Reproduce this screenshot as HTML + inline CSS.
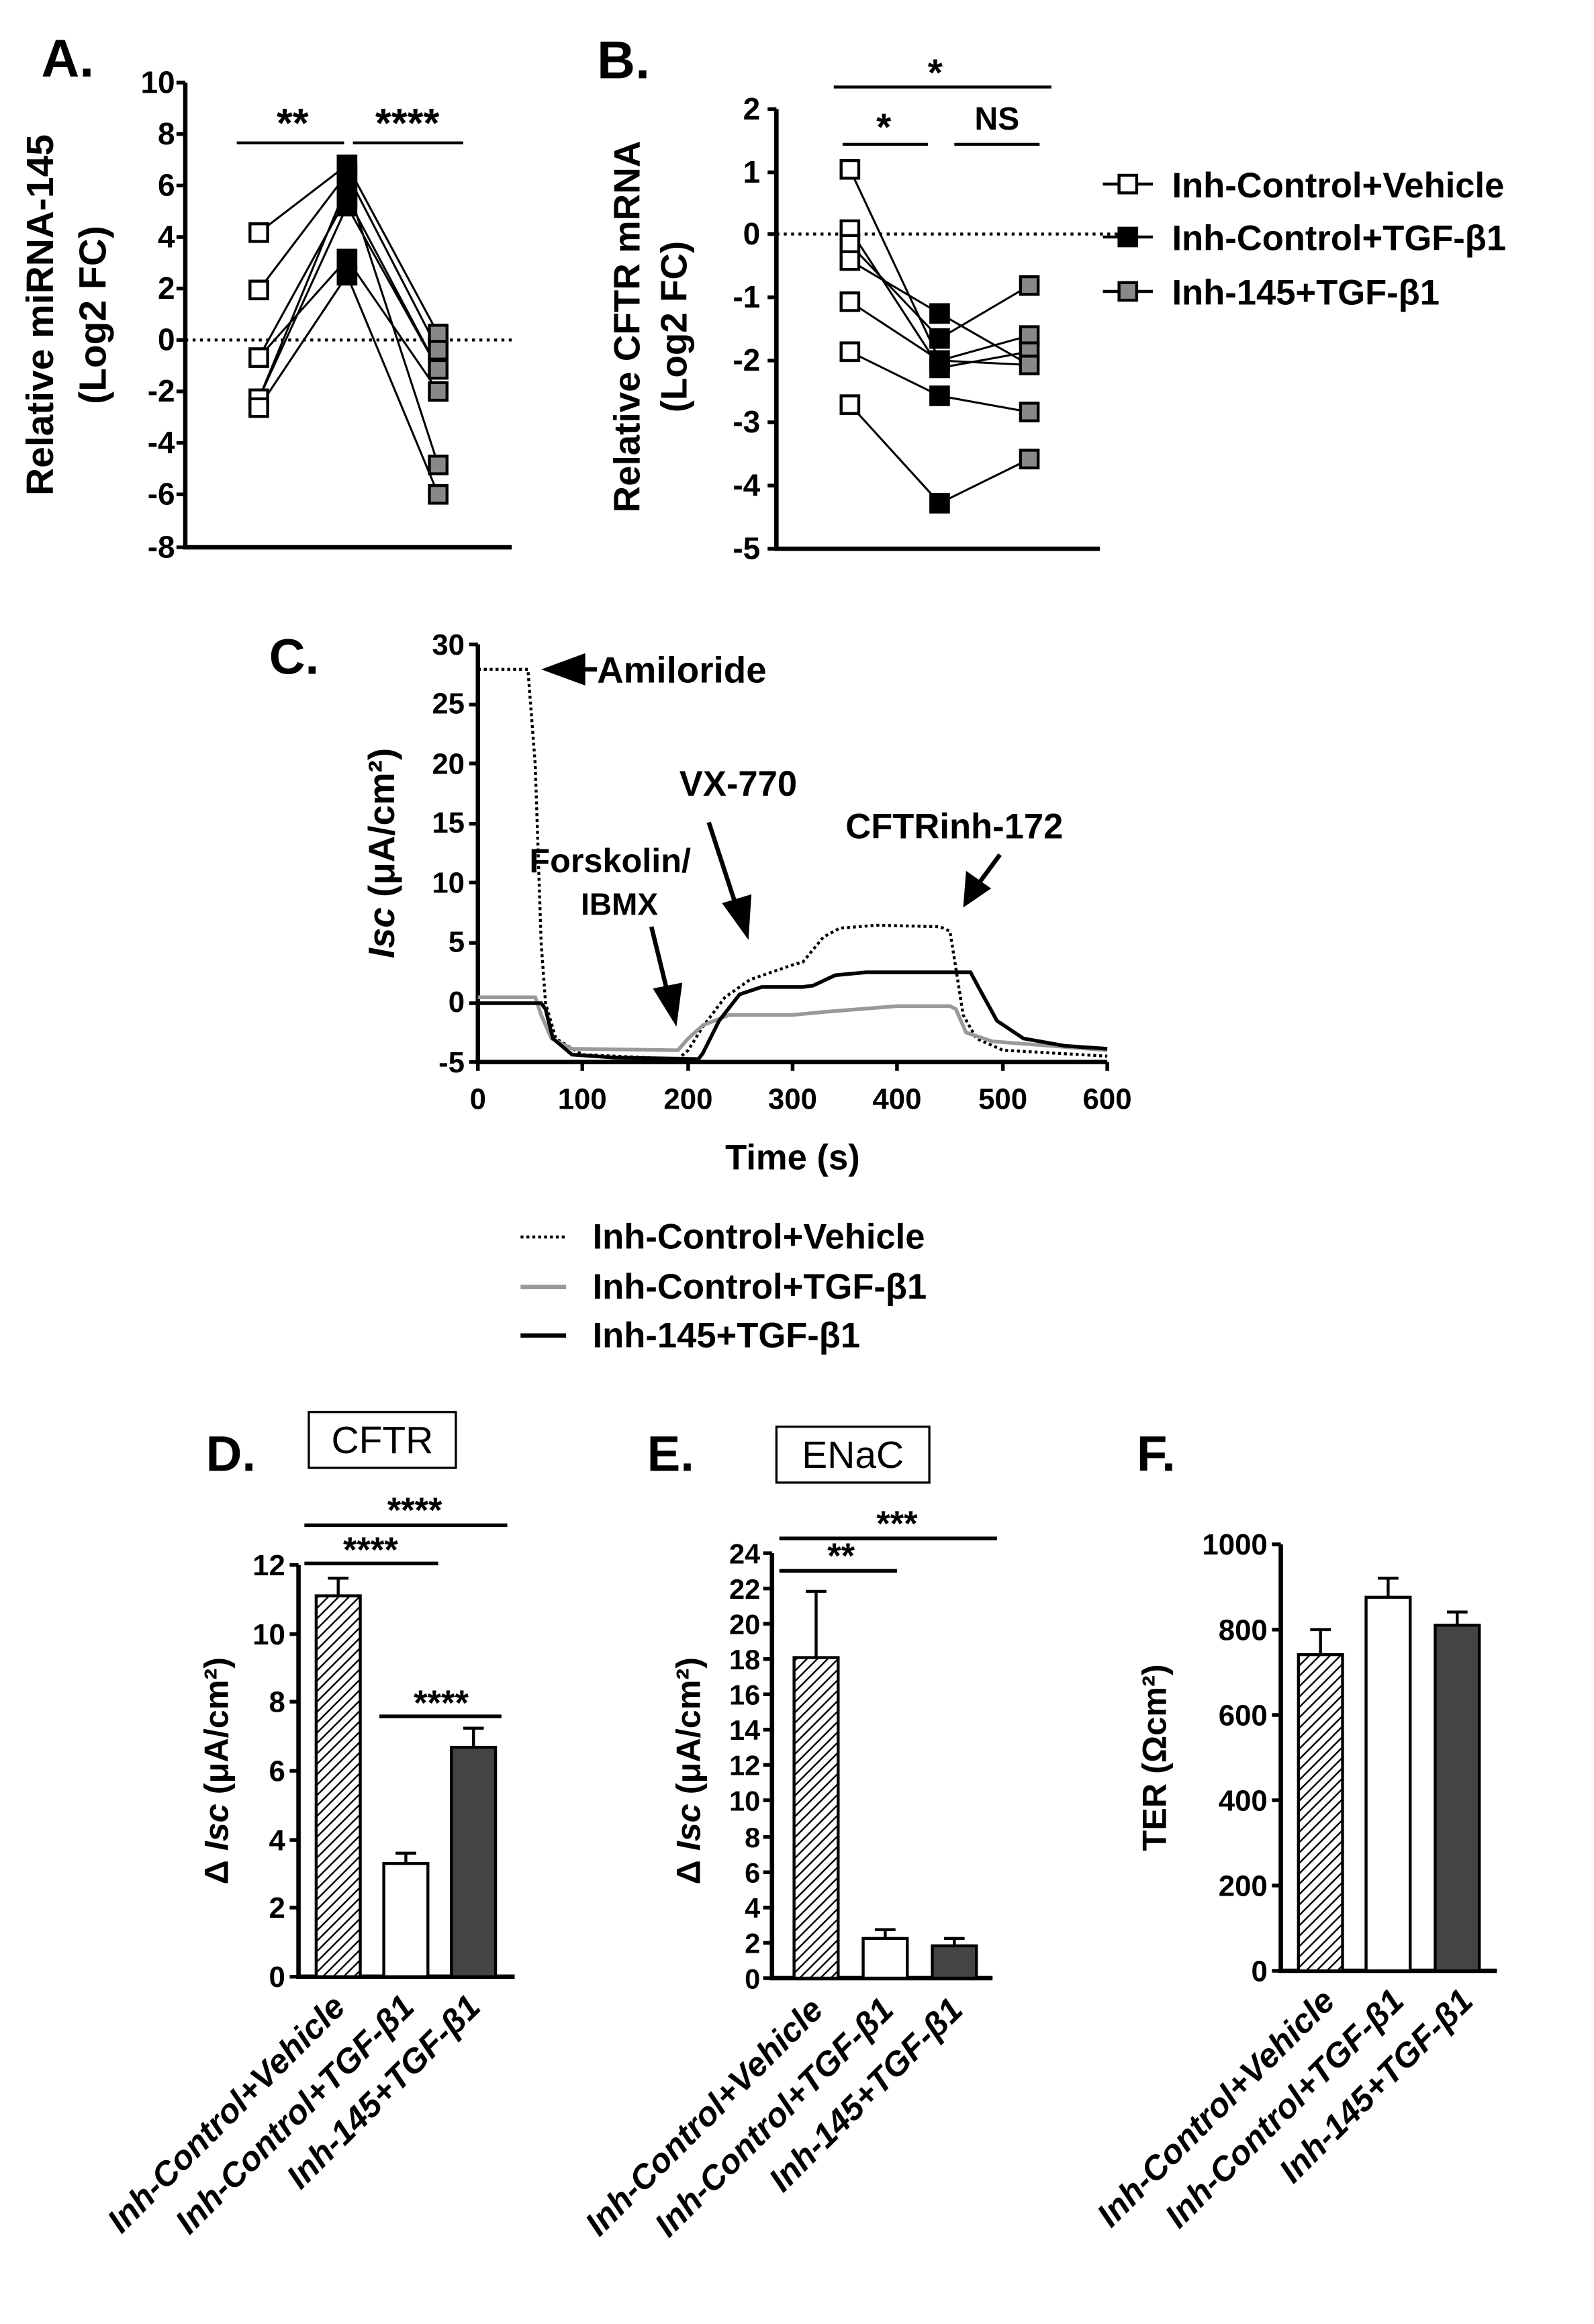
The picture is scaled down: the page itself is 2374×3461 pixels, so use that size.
<!DOCTYPE html>
<html><head><meta charset="utf-8"><style>html,body{margin:0;padding:0;background:#fff}svg{display:block}text{font-family:"Liberation Sans",sans-serif;font-weight:bold}</style></head><body>
<svg width="2374" height="3461" viewBox="0 0 1084 1580" xmlns="http://www.w3.org/2000/svg">
<defs><pattern id="h" width="5" height="5" patternUnits="userSpaceOnUse" patternTransform="rotate(45)"><rect width="5" height="5" fill="#fff"/><line x1="0" y1="0" x2="0" y2="5" stroke="#000" stroke-width="2.2"/></pattern></defs>
<!-- Panel A -->
<text x="28" y="52" font-size="36">A.</text>
<path d="M126 56V372H348" stroke="#000" stroke-width="3" fill="none"/>
<g font-size="21" text-anchor="end">
<text x="119" y="63">10</text><text x="119" y="98">8</text><text x="119" y="133">6</text><text x="119" y="168">4</text><text x="119" y="203">2</text><text x="119" y="238">0</text><text x="119" y="273">-2</text><text x="119" y="308">-4</text><text x="119" y="343">-6</text><text x="119" y="379">-8</text></g>
<path d="M120 56h6M120 91h6M120 126h6M120 161h6M120 196h6M120 231h6M120 266h6M120 301h6M120 336h6M120 372h6" stroke="#000" stroke-width="2.5"/>
<text transform="translate(36 214) rotate(-90)" font-size="26" text-anchor="middle">Relative miRNA-145</text>
<text transform="translate(72 214) rotate(-90)" font-size="26" text-anchor="middle">(Log2 FC)</text>
<line x1="126" y1="231" x2="348" y2="231" stroke="#000" stroke-width="2" stroke-dasharray="2,3"/>
<path d="M161 97H234M240 97H315" stroke="#000" stroke-width="2"/>
<text x="199" y="93" font-size="28" text-anchor="middle">**</text><text x="277" y="93" font-size="28" text-anchor="middle">****</text>
<g stroke="#000" stroke-width="1.4" fill="none">
<path d="M176 158L236 112L298 227M176 197L236 118L298 238M176 243L236 134L298 251M176 243L236 176L298 266M176 271L236 140L298 251M176 277L236 187L298 336M176 271L236 126L298 316"/></g>
<g stroke="#000" stroke-width="2">
<g fill="#fff"><rect x="170" y="152" width="12" height="12"/><rect x="170" y="191" width="12" height="12"/><rect x="170" y="237" width="12" height="12"/><rect x="170" y="265" width="12" height="12"/><rect x="170" y="271" width="12" height="12"/></g>
<g fill="#000"><rect x="230" y="106" width="12" height="12"/><rect x="230" y="112" width="12" height="12"/><rect x="230" y="120" width="12" height="12"/><rect x="230" y="128" width="12" height="12"/><rect x="230" y="134" width="12" height="12"/><rect x="230" y="170" width="12" height="12"/><rect x="230" y="181" width="12" height="12"/></g>
<g fill="#888"><rect x="292" y="221" width="12" height="12"/><rect x="292" y="232" width="12" height="12"/><rect x="292" y="245" width="12" height="12"/><rect x="292" y="260" width="12" height="12"/><rect x="292" y="310" width="12" height="12"/><rect x="292" y="330" width="12" height="12"/></g></g>
<!-- Panel B -->
<text x="406" y="53" font-size="36">B.</text>
<path d="M528 74V373H748" stroke="#000" stroke-width="3" fill="none"/>
<g font-size="21" text-anchor="end"><text x="517" y="81">2</text><text x="517" y="124">1</text><text x="517" y="166">0</text><text x="517" y="209">-1</text><text x="517" y="252">-2</text><text x="517" y="294">-3</text><text x="517" y="337">-4</text><text x="517" y="380">-5</text></g>
<path d="M522 74h6M522 117h6M522 159h6M522 202h6M522 245h6M522 287h6M522 330h6M522 373h6" stroke="#000" stroke-width="2.5"/>
<text transform="translate(435 222) rotate(-90)" font-size="25" text-anchor="middle">Relative CFTR mRNA</text>
<text transform="translate(467 222) rotate(-90)" font-size="25" text-anchor="middle">(Log2 FC)</text>
<line x1="528" y1="159" x2="760" y2="159" stroke="#000" stroke-width="2" stroke-dasharray="2,3"/>
<path d="M567 59H715M573 98H631M649 98H707" stroke="#000" stroke-width="2"/>
<text x="636" y="58" font-size="26" text-anchor="middle">*</text><text x="601" y="95" font-size="26" text-anchor="middle">*</text><text x="678" y="88" font-size="22" text-anchor="middle">NS</text>
<g stroke="#000" stroke-width="1.4" fill="none"><path d="M578 115L639 245L700 248M578 156L639 250L700 239M578 166L639 230L700 194M578 177L639 213L700 248M578 205L639 245L700 228M578 239L639 269L700 280M578 275L639 342L700 312"/></g>
<g stroke="#000" stroke-width="2">
<g fill="#fff"><rect x="572" y="109" width="12" height="12"/><rect x="572" y="150" width="12" height="12"/><rect x="572" y="160" width="12" height="12"/><rect x="572" y="171" width="12" height="12"/><rect x="572" y="199" width="12" height="12"/><rect x="572" y="233" width="12" height="12"/><rect x="572" y="269" width="12" height="12"/></g>
<g fill="#000"><rect x="633" y="207" width="12" height="12"/><rect x="633" y="224" width="12" height="12"/><rect x="633" y="239" width="12" height="12"/><rect x="633" y="244" width="12" height="12"/><rect x="633" y="263" width="12" height="12"/><rect x="633" y="336" width="12" height="12"/></g>
<g fill="#888"><rect x="694" y="188" width="12" height="12"/><rect x="694" y="222" width="12" height="12"/><rect x="694" y="233" width="12" height="12"/><rect x="694" y="242" width="12" height="12"/><rect x="694" y="274" width="12" height="12"/><rect x="694" y="306" width="12" height="12"/></g></g>
<!-- legend -->
<g stroke="#000" stroke-width="2"><path d="M750 125h34M750 161h34M750 198h34"/><rect x="761" y="119" width="12" height="12" fill="#fff"/><rect x="761" y="155" width="12" height="12" fill="#000"/><rect x="761" y="192" width="12" height="12" fill="#888"/></g>
<g font-size="24"><text x="797" y="134">Inh-Control+Vehicle</text><text x="797" y="170">Inh-Control+TGF-β1</text><text x="797" y="207">Inh-145+TGF-β1</text></g>
<!-- Panel C -->
<text x="183" y="458" font-size="34">C.</text>
<path d="M325 438V722H753" stroke="#000" stroke-width="3" fill="none"/>
<g font-size="20" text-anchor="end"><text x="316" y="445">30</text><text x="316" y="485">25</text><text x="316" y="526">20</text><text x="316" y="566">15</text><text x="316" y="607">10</text><text x="316" y="647">5</text><text x="316" y="688">0</text><text x="316" y="729">-5</text></g>
<path d="M319 438h6M319 479h6M319 519h6M319 560h6M319 600h6M319 641h6M319 682h6M319 722h6" stroke="#000" stroke-width="2.5"/>
<g font-size="20" text-anchor="middle"><text x="325" y="754">0</text><text x="396" y="754">100</text><text x="468" y="754">200</text><text x="539" y="754">300</text><text x="610" y="754">400</text><text x="682" y="754">500</text><text x="753" y="754">600</text></g>
<path d="M325 722v6M396 722v6M468 722v6M539 722v6M610 722v6M682 722v6M753 722v6" stroke="#000" stroke-width="2.5"/>
<text x="539" y="795" font-size="24" text-anchor="middle">Time (s)</text>
<text transform="translate(268 580) rotate(-90)" font-size="25" text-anchor="middle"><tspan font-style="italic">Isc</tspan> (μA/cm²)</text>
<polyline fill="none" stroke="#000" stroke-width="2" stroke-dasharray="2,2" points="325,455 359,455 364,520 368,641 371,682 378,706 396,717 461,720 468,714 478,698 493,678 510,666 539,656 546,654 560,637 571,631 596,629 639,630 646,633 650,658 655,690 664,706 682,714 753,718"/>
<polyline fill="none" stroke="#999" stroke-width="2.5" points="325,678 364,678 368,690 375,706 389,713 461,714 468,706 478,697 496,690 539,690 560,688 610,684 646,684 650,686 657,702 675,708 753,714"/>
<polyline fill="none" stroke="#000" stroke-width="2.5" points="325,682 368,682 371,686 376,706 389,717 418,719 475,720 478,716 489,694 503,676 518,671 546,671 553,670 568,663 589,661 660,661 667,674 678,694 696,706 724,711 753,713"/>
<path d="M368 455l30-11v22z" fill="#000"/><line x1="395" y1="455" x2="406" y2="455" stroke="#000" stroke-width="3"/>
<text x="406" y="464" font-size="25">Amiloride</text>
<text x="360" y="593" font-size="23">Forskolin/</text><text x="395" y="622" font-size="21">IBMX</text>
<path d="M443 630L454 675" stroke="#000" stroke-width="3"/><path d="M444 672l20-4l-4 30z" fill="#000"/>
<text x="462" y="541" font-size="24">VX-770</text>
<path d="M482 559L500 614" stroke="#000" stroke-width="3"/><path d="M491 614l20-6l-2 31z" fill="#000"/>
<text x="575" y="570" font-size="24">CFTRinh-172</text>
<path d="M680 581L666 600" stroke="#000" stroke-width="3"/><path d="M657 592l17 12l-19 13z" fill="#000"/>
<!-- C legend -->
<path d="M354 841h31" stroke="#000" stroke-width="2" stroke-dasharray="2,2"/><path d="M354 875h31" stroke="#999" stroke-width="3"/><path d="M354 908h31" stroke="#000" stroke-width="3"/>
<g font-size="24"><text x="403" y="849">Inh-Control+Vehicle</text><text x="403" y="883">Inh-Control+TGF-β1</text><text x="403" y="916">Inh-145+TGF-β1</text></g>
<!-- Panel D -->
<text x="140" y="1000" font-size="34">D.</text>
<rect x="210" y="960" width="100" height="38" fill="#fff" stroke="#000" stroke-width="1.5"/><text x="260" y="988" font-size="26" style="font-weight:normal" text-anchor="middle">CFTR</text>
<path d="M203 1064V1344H350" stroke="#000" stroke-width="3" fill="none"/>
<g font-size="20" text-anchor="end"><text x="194" y="1071">12</text><text x="194" y="1118">10</text><text x="194" y="1164">8</text><text x="194" y="1211">6</text><text x="194" y="1258">4</text><text x="194" y="1304">2</text><text x="194" y="1351">0</text></g>
<path d="M197 1064h6M197 1111h6M197 1157h6M197 1204h6M197 1251h6M197 1297h6M197 1344h6" stroke="#000" stroke-width="2.5"/>
<text transform="translate(155 1204) rotate(-90)" font-size="23" text-anchor="middle">Δ <tspan font-style="italic">Isc</tspan> (μA/cm²)</text>
<path d="M207 1037H345M207 1063H298M258 1167H341" stroke="#000" stroke-width="2.5"/>
<g font-size="24" text-anchor="middle"><text x="282" y="1035">****</text><text x="252" y="1062">****</text><text x="300" y="1166">****</text></g>
<g stroke="#000" stroke-width="2"><rect x="215" y="1085" width="30" height="259" fill="url(#h)"/><rect x="261" y="1267" width="30" height="77" fill="#fff"/><rect x="307" y="1188" width="30" height="156" fill="#444"/>
<path d="M230 1085v-12m-7 0h14M276 1267v-7m-7 0h14M322 1188v-13m-7 0h14"/></g>
<!-- Panel E -->
<text x="440" y="1000" font-size="34">E.</text>
<rect x="528" y="970" width="104" height="38" fill="#fff" stroke="#000" stroke-width="1.5"/><text x="580" y="998" font-size="26" style="font-weight:normal" text-anchor="middle">ENaC</text>
<path d="M525 1056V1345H675" stroke="#000" stroke-width="3" fill="none"/>
<g font-size="19" text-anchor="end"><text x="517" y="1063">24</text><text x="517" y="1087">22</text><text x="517" y="1111">20</text><text x="517" y="1135">18</text><text x="517" y="1159">16</text><text x="517" y="1183">14</text><text x="517" y="1207">12</text><text x="517" y="1231">10</text><text x="517" y="1256">8</text><text x="517" y="1280">6</text><text x="517" y="1304">4</text><text x="517" y="1328">2</text><text x="517" y="1352">0</text></g>
<path d="M519 1056h6M519 1080h6M519 1104h6M519 1128h6M519 1152h6M519 1176h6M519 1200h6M519 1224h6M519 1249h6M519 1273h6M519 1297h6M519 1321h6M519 1345h6" stroke="#000" stroke-width="2.5"/>
<text transform="translate(476 1204) rotate(-90)" font-size="23" text-anchor="middle">Δ <tspan font-style="italic">Isc</tspan> (μA/cm²)</text>
<path d="M530 1046H678M530 1068H610" stroke="#000" stroke-width="2.5"/>
<g font-size="24" text-anchor="middle"><text x="610" y="1044">***</text><text x="572" y="1066">**</text></g>
<g stroke="#000" stroke-width="2"><rect x="540" y="1127" width="30" height="218" fill="url(#h)"/><rect x="587" y="1318" width="30" height="27" fill="#fff"/><rect x="634" y="1323" width="30" height="22" fill="#444"/>
<path d="M555 1127v-45m-7 0h14M602 1318v-6m-7 0h14M649 1323v-5m-7 0h14"/></g>
<!-- Panel F -->
<text x="773" y="1000" font-size="34">F.</text>
<path d="M871 1050V1340H1018" stroke="#000" stroke-width="3" fill="none"/>
<g font-size="20" text-anchor="end"><text x="862" y="1057">1000</text><text x="862" y="1115">800</text><text x="862" y="1173">600</text><text x="862" y="1231">400</text><text x="862" y="1289">200</text><text x="862" y="1347">0</text></g>
<path d="M865 1050h6M865 1108h6M865 1166h6M865 1224h6M865 1282h6M865 1340h6" stroke="#000" stroke-width="2.5"/>
<text transform="translate(793 1195) rotate(-90)" font-size="23" text-anchor="middle">TER (Ωcm²)</text>
<g stroke="#000" stroke-width="2"><rect x="883" y="1125" width="30" height="215" fill="url(#h)"/><rect x="929" y="1086" width="30" height="254" fill="#fff"/><rect x="976" y="1105" width="30" height="235" fill="#444"/>
<path d="M898 1125v-17m-7 0h14M944 1086v-13m-7 0h14M991 1105v-9m-7 0h14"/></g>
<!-- rotated category labels -->
<g font-size="23" text-anchor="end" font-style="italic">
<text transform="translate(236 1366) rotate(-45)">Inh-Control+Vehicle</text><text transform="translate(283 1366) rotate(-45)">Inh-Control+TGF-β1</text><text transform="translate(328 1366) rotate(-45)">Inh-145+TGF-β1</text>
<text transform="translate(561 1368) rotate(-45)">Inh-Control+Vehicle</text><text transform="translate(609 1368) rotate(-45)">Inh-Control+TGF-β1</text><text transform="translate(656 1368) rotate(-45)">Inh-145+TGF-β1</text>
<text transform="translate(909 1362) rotate(-45)">Inh-Control+Vehicle</text><text transform="translate(956 1362) rotate(-45)">Inh-Control+TGF-β1</text><text transform="translate(1003 1362) rotate(-45)">Inh-145+TGF-β1</text>
</g>
</svg>
</body></html>
